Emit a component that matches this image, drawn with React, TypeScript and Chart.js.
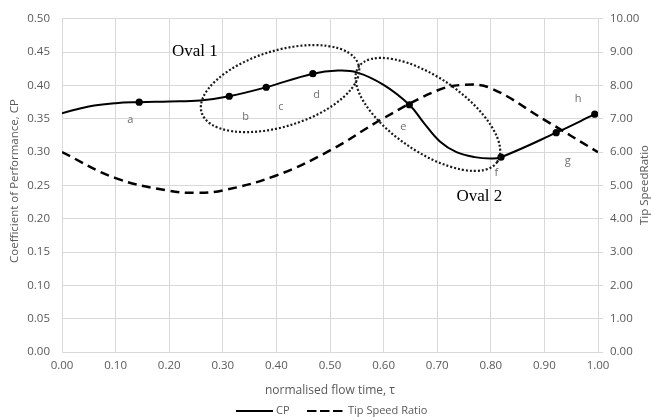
import { useEffect, useRef } from 'react';
import { Chart, registerables } from 'chart.js';

Chart.register(...registerables);

// ---- data ----
const cpTau = [0, 0.05, 0.1, 0.144, 0.2, 0.258, 0.312, 0.381, 0.468, 0.515, 0.55, 0.6, 0.648, 0.675, 0.705, 0.736, 0.77, 0.8, 0.819, 0.922, 0.994];
const cpValue = [0.3585, 0.3685, 0.3735, 0.375, 0.376, 0.3775, 0.3839, 0.3974, 0.4178, 0.4225, 0.4198, 0.401, 0.3711, 0.344, 0.316, 0.3, 0.2925, 0.2905, 0.2924, 0.3292, 0.357];
const cpPointLetter = ['', '', '', 'a', '', '', 'b', 'c', 'd', '', '', '', 'e', '', '', '', '', '', 'f', 'g', 'h'];

const tsrTau = [0, 0.1, 0.2, 0.25, 0.3, 0.4, 0.5, 0.6, 0.7, 0.75, 0.8, 0.9, 1.0];
const tsrValue = [6.0, 5.22, 4.84, 4.78, 4.85, 5.3, 6.05, 7.02, 7.85, 8.02, 7.92, 6.97, 6.0];

const seriesNames = ['CP', 'Tip Speed Ratio'];
const xTitle = 'normalised flow time, \u03c4';
const yTitle = 'Coefficient of Performance, CP';
const y1Title = 'Tip SpeedRatio';
const ovalNames = ['Oval 1', 'Oval 2'];

// ---- annotation styling / placement ----
const letterOffsets: Record<string, [number, number]> = {
  a: [-9, 17.6], b: [16.4, 20.3], c: [14.7, 19.3], d: [3.7, 20.7],
  e: [-6, 21.7], f: [-4.6, 15.7], g: [11.6, 28], h: [-16.7, -15.4],
};
const ovalShapes = [
  { tau: 0.4068, cp: 0.3954, rx: 82, ry: 38, rot: -17, labelTau: 0.205, labelCp: 0.4507 },
  { tau: 0.6826, cp: 0.3566, rx: 84, ry: 37, rot: 34.5, labelTau: 0.736, labelCp: 0.2341 },
];

const TICK_FONT = { family: '"Open Sans", sans-serif', size: 11.5 };
const GREY = '#595959';
const GRID = '#d9d9d9';

const decorPlugin = {
  id: 'decor',
  afterDatasetsDraw(chart: any) {
    const { ctx, scales } = chart;
    const x = scales.x, y = scales.y;
    ctx.save();
    ovalShapes.forEach((o, i) => {
      const cx = x.getPixelForValue(o.tau);
      const cy = y.getPixelForValue(o.cp);
      ctx.beginPath();
      ctx.ellipse(cx, cy, o.rx, o.ry, (o.rot * Math.PI) / 180, 0, Math.PI * 2);
      ctx.setLineDash([2, 2]);
      ctx.lineWidth = 2.2;
      ctx.strokeStyle = '#1a1a1a';
      ctx.stroke();
      ctx.setLineDash([]);
      ctx.fillStyle = '#000';
      ctx.font = '17px "Liberation Serif", serif';
      ctx.textAlign = 'left';
      ctx.textBaseline = 'middle';
      ctx.fillText(ovalNames[i], x.getPixelForValue(o.labelTau), y.getPixelForValue(o.labelCp));
    });
    ctx.font = '11px "Open Sans", sans-serif';
    ctx.fillStyle = '#6f6f6f';
    ctx.textAlign = 'center';
    ctx.textBaseline = 'middle';
    cpPointLetter.forEach((l, i) => {
      if (!l) return;
      const off = letterOffsets[l];
      ctx.fillText(l, x.getPixelForValue(cpTau[i]) + off[0], y.getPixelForValue(cpValue[i]) + off[1]);
    });
    ctx.restore();
  },
  afterDraw(chart: any) {
    const { ctx, chartArea } = chart;
    ctx.save();
    ctx.fillStyle = GREY;
    ctx.textBaseline = 'middle';
    ctx.textAlign = 'center';
    ctx.font = '12px "Open Sans", sans-serif';
    const midX = (chartArea.left + chartArea.right) / 2;
    ctx.fillText(xTitle, midX, 391);
    ctx.font = '11.5px "Open Sans", sans-serif';
    ctx.save();
    ctx.translate(15, 181);
    ctx.rotate(-Math.PI / 2);
    ctx.fillText(yTitle, 0, 0);
    ctx.restore();
    ctx.save();
    ctx.translate(645, 185);
    ctx.rotate(-Math.PI / 2);
    ctx.fillText(y1Title, 0, 0);
    ctx.restore();
    const ly = 411;
    ctx.strokeStyle = '#000';
    ctx.lineWidth = 2;
    ctx.beginPath();
    ctx.moveTo(236, ly);
    ctx.lineTo(273, ly);
    ctx.stroke();
    ctx.setLineDash([9.5, 3.5]);
    ctx.beginPath();
    ctx.moveTo(307, ly);
    ctx.lineTo(344, ly);
    ctx.stroke();
    ctx.setLineDash([]);
    ctx.font = '11px "Open Sans", sans-serif';
    ctx.textAlign = 'left';
    ctx.fillText(seriesNames[0], 276, ly);
    ctx.fillText(seriesNames[1], 348, ly);
    ctx.restore();
  },
};

export default function App() {
  const ref = useRef<HTMLCanvasElement | null>(null);
  useEffect(() => {
    if (!ref.current) return;
    const chart = new Chart(ref.current, {
      type: 'line',
      data: {
        datasets: [
          {
            label: seriesNames[0],
            data: cpTau.map((t, i) => ({ x: t, y: cpValue[i] })),
            yAxisID: 'y',
            borderColor: '#000',
            backgroundColor: '#000',
            borderWidth: 2,
            tension: 0.4,
            pointRadius: cpPointLetter.map((l) => (l ? 3.6 : 0)),
            pointBackgroundColor: '#000',
            pointBorderWidth: 0,
            fill: false,
            order: 0,
          },
          {
            label: seriesNames[1],
            data: tsrTau.map((t, i) => ({ x: t, y: tsrValue[i] })),
            yAxisID: 'y1',
            borderColor: '#000',
            borderWidth: 2.5,
            borderDash: [9, 5.5],
            tension: 0.4,
            pointRadius: 0,
            fill: false,
            order: 1,
          },
        ],
      },
      options: {
        animation: false,
        responsive: false,
        layout: { padding: { top: 17, left: 0, right: 0, bottom: 0 } },
        plugins: { legend: { display: false }, tooltip: { enabled: false } },
        scales: {
          x: {
            type: 'linear',
            min: 0,
            max: 1,
            ticks: {
              stepSize: 0.1,
              color: GREY,
              font: TICK_FONT,
              padding: 7,
              maxRotation: 0,
              callback: (v: any) => Number(v).toFixed(2),
            },
            grid: { color: GRID, drawTicks: false },
            border: { color: GRID },
            afterFit: (s: any) => { s.height = 65; },
          },
          y: {
            position: 'left',
            min: 0,
            max: 0.5,
            ticks: {
              stepSize: 0.05,
              color: GREY,
              font: TICK_FONT,
              padding: 12,
              callback: (v: any) => Number(v).toFixed(2),
            },
            grid: { color: GRID, drawTicks: false },
            border: { color: GRID },
            afterFit: (s: any) => { s.width = 62; },
          },
          y1: {
            position: 'right',
            min: 0,
            max: 10,
            ticks: {
              stepSize: 1,
              color: GREY,
              font: TICK_FONT,
              padding: 7,
              callback: (v: any) => Number(v).toFixed(2),
            },
            grid: { drawOnChartArea: false, color: GRID, drawTicks: true, tickLength: 5 },
            border: { color: GRID },
            afterFit: (s: any) => { s.width = 54; },
          },
        },
      },
      plugins: [decorPlugin],
    } as any);
    return () => chart.destroy();
  }, []);
  return (
    <div style={{ position: 'fixed', left: 0, top: 0, width: 652, height: 417, background: '#fff' }}>
      <canvas ref={ref} width={652} height={417} style={{ display: 'block' }} />
    </div>
  );
}
